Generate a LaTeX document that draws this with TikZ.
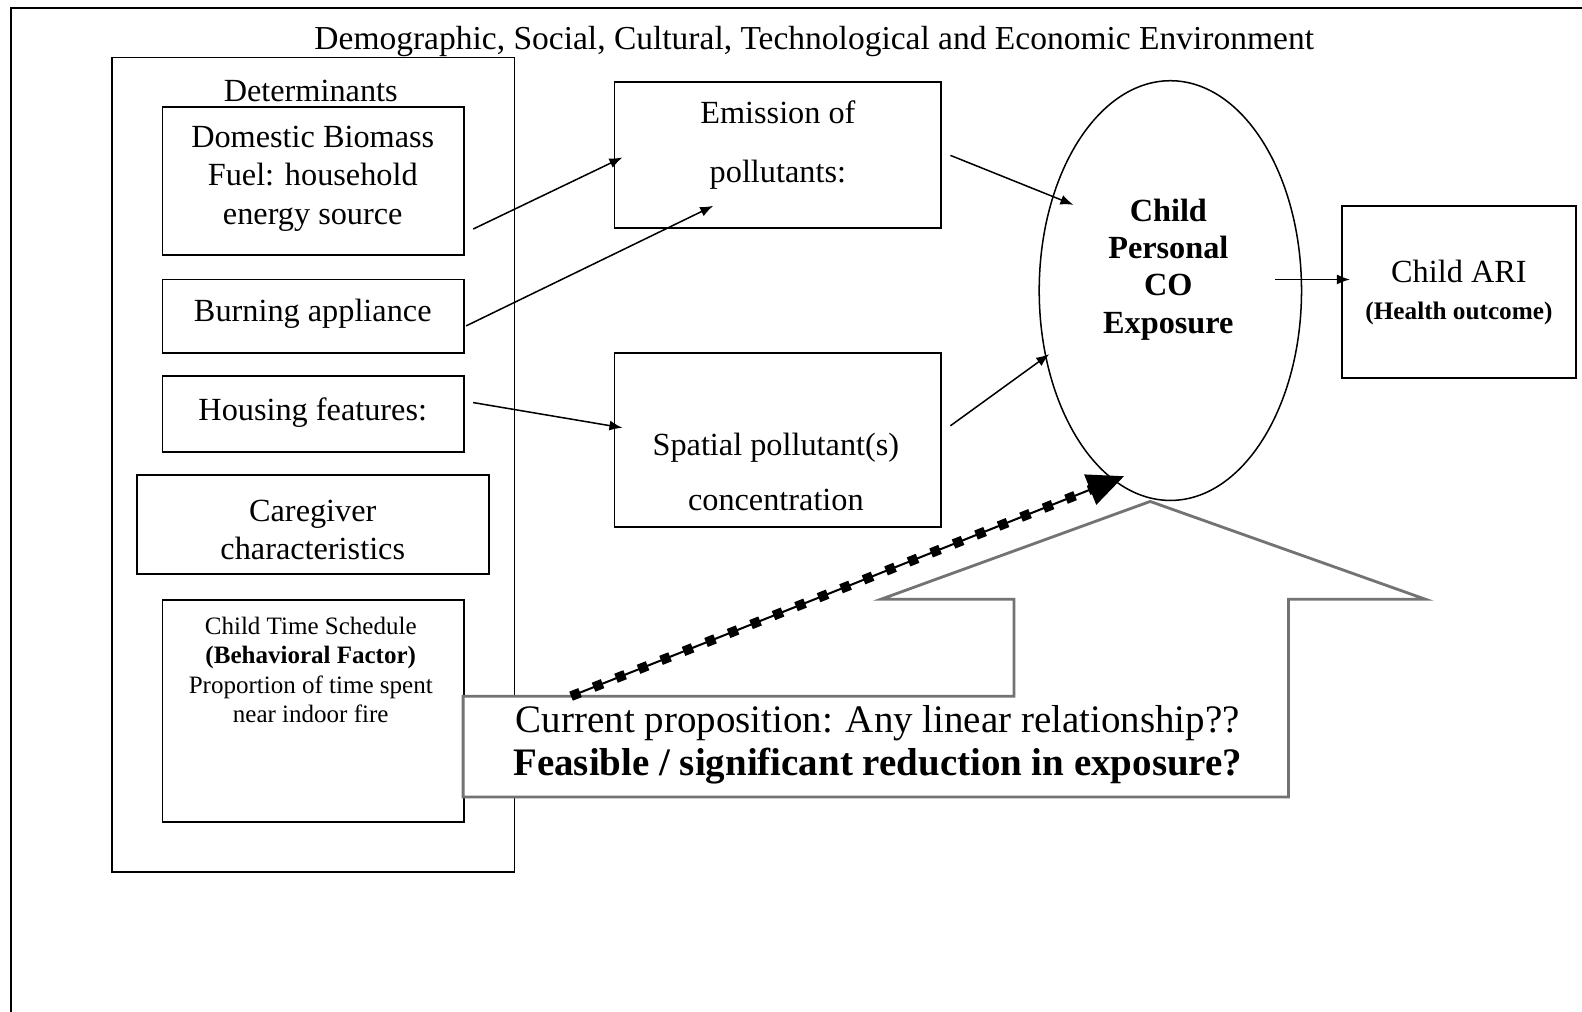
\documentclass[tikz,border=0pt]{standalone}
\usepackage{fontspec}
\setmainfont{Liberation Serif}
\usetikzlibrary{arrows.meta,shapes.geometric,fit}

\begin{document}
\begin{tikzpicture}[x=0.5pt,y=-0.5pt]
	\tikzstyle{box}=[draw=black,rectangle,line width=0.9pt,inner sep=0pt]
	\tikzstyle{txt}=[align=center,inner sep=0pt,font=\fontsize{16}{19}\selectfont]
	\tikzstyle{link}=[line width=0.75pt,-{Latex[length=6.5pt,width=5pt]}]
	\useasboundingbox (0,0) rectangle (1568,1003);
	\draw[line width=1.3pt] (11,1003) -- (11,8) -- (1568,8);
	\node[txt,font=\fontsize{16.6}{19}\selectfont] (env) at (807,41) {Demographic, Social, Cultural, Technological and Economic Environment};
	\node[box,fit={(111,57) (510,864)}] (det) {};
	\node[txt] (detT) at (308,90) {Determinants};
	\node[box,fit={(161,106) (460,253)}] (dom) {};
	\node[txt] (domT) at (310,177) {Domestic Biomass\\Fuel: household\\energy source};
	\node[box,fit={(161,277) (460,350)}] (burn) {};
	\node[txt] (burnT) at (310,311) {Burning appliance};
	\node[box,fit={(161,373) (460,448)}] (house) {};
	\node[txt] (houseT) at (310,409) {Housing features:};
	\node[box,fit={(136,471) (485,569)}] (care) {};
	\node[txt] (careT) at (310,525) {Caregiver\\characteristics};
	\node[box,fit={(161,595) (460,815)}] (sched) {};
	\node[txt,font=\fontsize{12.4}{14.5}\selectfont] (schedT) at (308,664) {Child Time Schedule\\\textbf{(Behavioral Factor)}\\Proportion of time spent\\near indoor fire};
	\node[box,fit={(609,81) (933,226)}] (emis) {};
	\node[txt,font=\fontsize{16}{29}\selectfont] (emisT) at (771,144) {Emission of\\pollutants:};
	\node[box,fit={(609,350) (933,522)}] (spat) {};
	\node[txt,font=\fontsize{16}{27.5}\selectfont] (spatT) at (769,468) {Spatial pollutant(s)\\concentration};
	\node[box,fit={(1330,204) (1562,375)}] (ari) {};
	\node[txt,font=\fontsize{16}{18}\selectfont] (ariT) at (1446,290) {Child ARI\\{\bfseries\fontsize{12.5}{14}\selectfont (Health outcome)}};
	\draw[draw=black!55,fill=white,line width=1.4pt] (459,690) -- (1005,690) -- (1005,594) -- (873,594) -- (1140,497) -- (1413,594) -- (1277,594) -- (1277,790) -- (459,790) -- cycle;
	\node[txt,font=\fontsize{19.3}{21.5}\selectfont] (propT) at (870,738) {Current proposition: Any linear relationship??\\\textbf{Feasible / significant reduction in exposure?}};
	\node[draw=black,ellipse,line width=0.75pt,minimum width=130pt,minimum height=208pt,inner sep=0pt] (expo) at (1160,288) {};
	\node[txt,font=\bfseries\fontsize{16}{18.5}\selectfont] (expoT) at (1158,267) {Child\\Personal\\CO\\Exposure};
	\coordinate (domOut) at (469,227);
	\coordinate (emisIn1) at (617,156);
	\coordinate (burnOut) at (462,323);
	\coordinate (emisIn2) at (707,204);
	\coordinate (houseOut) at (469,399);
	\coordinate (spatIn) at (617,424);
	\coordinate (emisOut) at (942,154);
	\coordinate (expoIn1) at (1064,203);
	\coordinate (spatOut) at (942,422);
	\coordinate (expoIn2) at (1040,351);
	\coordinate (expoOut) at (1264,277);
	\coordinate (ariIn) at (1338,277);
	\coordinate (propOut) at (566,690);
	\coordinate (expoIn3) at (1114,472);
	\draw[link] (domOut) -- (emisIn1);
	\draw[link] (burnOut) -- (emisIn2);
	\draw[link] (houseOut) -- (spatIn);
	\draw[link] (emisOut) -- (expoIn1);
	\draw[link] (spatOut) -- (expoIn2);
	\draw[link] (expoOut) -- (ariIn);
	\draw[line width=1pt,-{Triangle[length=18pt,width=16pt]}] (propOut) -- (expoIn3);
	\draw[line width=4.8pt,dash pattern=on 4.8pt off 7.2pt,shorten >=16pt] (propOut) -- (expoIn3);
\end{tikzpicture}
\end{document}
